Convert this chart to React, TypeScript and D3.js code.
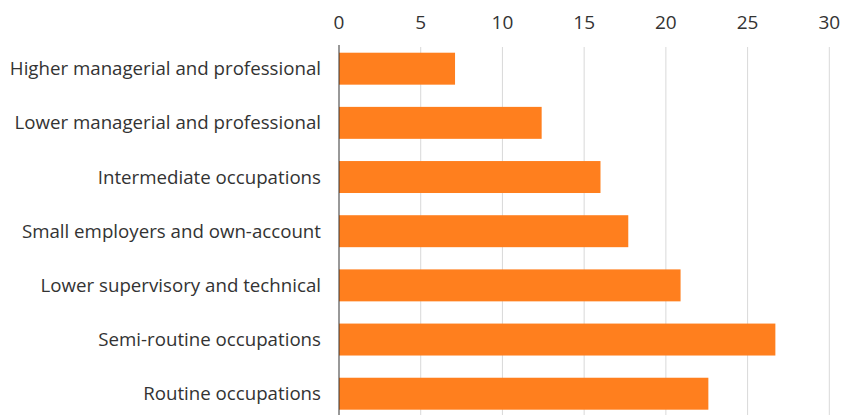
import { useEffect, useRef } from 'react';
import * as d3 from 'd3';

const categories = [
  'Higher managerial and professional',
  'Lower managerial and professional',
  'Intermediate occupations',
  'Small employers and own-account',
  'Lower supervisory and technical',
  'Semi-routine occupations',
  'Routine occupations',
];
const values = [7.1, 12.4, 16.0, 17.7, 20.9, 26.7, 22.6];
const xTicks = [0, 5, 10, 15, 20, 25, 30];

const width = 841;
const height = 415;

export default function App() {
  const svgRef = useRef<SVGSVGElement>(null);

  useEffect(() => {
    if (!svgRef.current) return;
    const svg = d3.select(svgRef.current);
    svg.selectAll('*').remove();

    const xScale = d3.scaleLinear().domain([0, 30]).range([339, 829.3]);
    const yScale = d3
      .scaleBand<string>()
      .domain(categories)
      .range([41.6, 420.8])
      .paddingInner(0.41)
      .paddingOuter(0.205);

    const font = '"Open Sans", sans-serif';

    // grid lines
    svg
      .append('g')
      .selectAll('line')
      .data(xTicks.filter((t) => t > 0))
      .enter()
      .append('line')
      .attr('x1', (d) => xScale(d))
      .attr('x2', (d) => xScale(d))
      .attr('y1', 47)
      .attr('y2', height)
      .attr('stroke', '#d9d9d9')
      .attr('stroke-width', 1);

    // tick labels
    svg
      .append('g')
      .selectAll('text')
      .data(xTicks)
      .enter()
      .append('text')
      .attr('x', (d) => xScale(d))
      .attr('y', 28.5)
      .attr('text-anchor', 'middle')
      .attr('font-family', font)
      .attr('font-size', 19)
      .attr('fill', '#333')
      .text((d) => d);

    // bars
    svg
      .append('g')
      .selectAll('rect')
      .data(values)
      .enter()
      .append('rect')
      .attr('x', xScale(0))
      .attr('y', (_, i) => yScale(categories[i])!)
      .attr('width', (d) => xScale(d) - xScale(0))
      .attr('height', yScale.bandwidth())
      .attr('fill', '#ff7f1e');

    // zero line
    svg
      .append('line')
      .attr('x1', xScale(0))
      .attr('x2', xScale(0))
      .attr('y1', 45)
      .attr('y2', height)
      .attr('stroke', '#333')
      .attr('stroke-width', 1);

    // category labels
    svg
      .append('g')
      .selectAll('text')
      .data(categories)
      .enter()
      .append('text')
      .attr('x', 321)
      .attr('y', (d) => yScale(d)! + yScale.bandwidth() / 2)
      .attr('dy', '0.35em')
      .attr('text-anchor', 'end')
      .attr('font-family', font)
      .attr('font-size', 18.7)
      .attr('fill', '#333')
      .text((d) => d);
  }, []);

  return (
    <div style={{ position: 'absolute', left: 0, top: 0 }}>
      <svg ref={svgRef} width={width} height={height} style={{ display: 'block' }} />
    </div>
  );
}
